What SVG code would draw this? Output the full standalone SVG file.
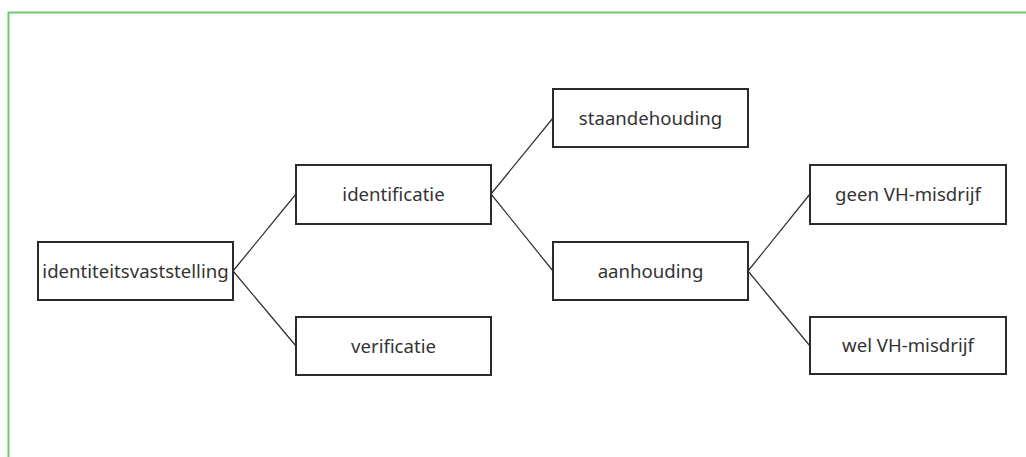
<svg xmlns="http://www.w3.org/2000/svg" width="1026" height="457" viewBox="0 0 1026 457">
<style>
.box{fill:#fff;stroke:#2b2b2b;stroke-width:2}
.lbl{font-family:"Noto Sans","Open Sans",sans-serif;font-size:18.6px;fill:#333;text-anchor:middle;dominant-baseline:central}
.conn line{stroke:#2b2b2b;stroke-width:1.2}
</style>
<rect width="1026" height="457" fill="#fff"/>
<path d="M8.5 457 V12.5 H1026" fill="none" stroke="#6ccb6c" stroke-width="2"/>
<g id="connectors" class="conn">
<line x1="233" y1="271" x2="296" y2="194"/>
<line x1="233" y1="271" x2="296" y2="346"/>
<line x1="491" y1="194" x2="553" y2="118"/>
<line x1="491" y1="194" x2="553" y2="271"/>
<line x1="748" y1="271" x2="810" y2="194"/>
<line x1="748" y1="271" x2="810" y2="346"/>
</g>
<g id="n1"><rect class="box" x="38" y="242" width="195" height="58"/><text class="lbl" x="135.5" y="270">identiteitsvaststelling</text></g>
<g id="n2"><rect class="box" x="296" y="165" width="195" height="59"/><text class="lbl" x="393.5" y="193">identificatie</text></g>
<g id="n3"><rect class="box" x="296" y="317" width="195" height="58"/><text class="lbl" x="393.5" y="345">verificatie</text></g>
<g id="n4"><rect class="box" x="553" y="89" width="195" height="58"/><text class="lbl" x="650.5" y="117">staandehouding</text></g>
<g id="n5"><rect class="box" x="553" y="242" width="195" height="58"/><text class="lbl" x="650.5" y="270">aanhouding</text></g>
<g id="n6"><rect class="box" x="810" y="165" width="196" height="59"/><text class="lbl" x="908" y="193">geen VH-misdrijf</text></g>
<g id="n7"><rect class="box" x="810" y="317" width="196" height="57"/><text class="lbl" x="908" y="344.5">wel VH-misdrijf</text></g>
</svg>
